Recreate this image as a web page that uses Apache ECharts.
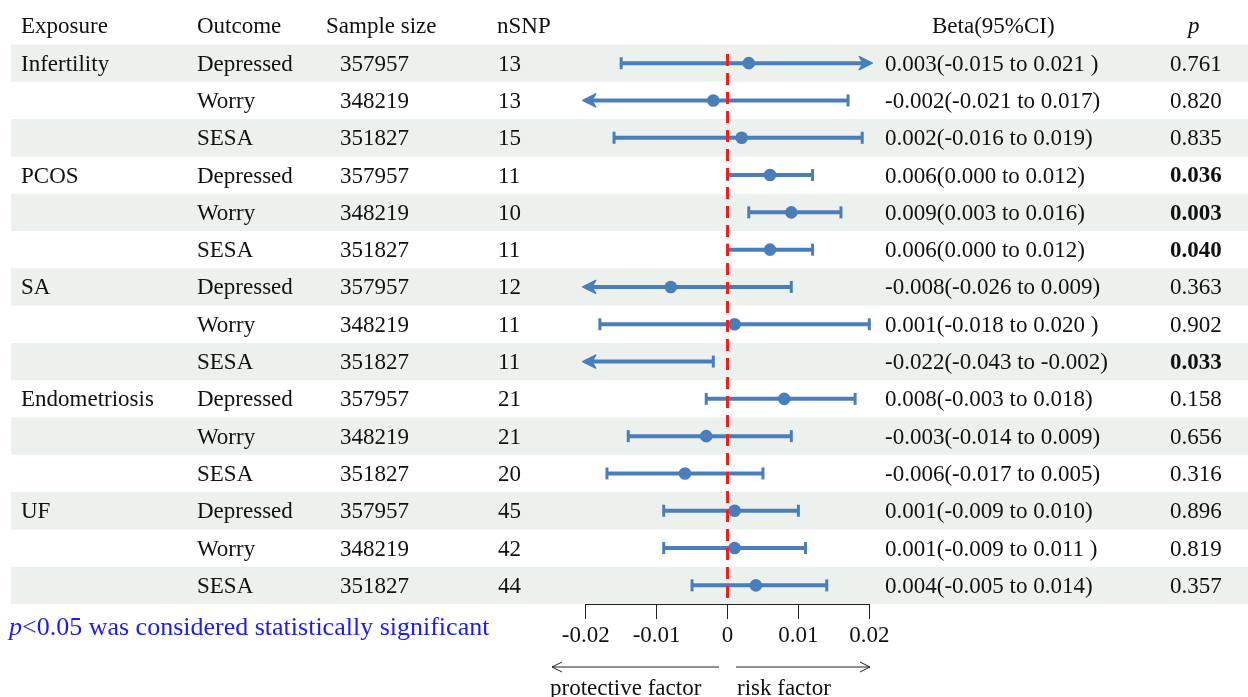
<!DOCTYPE html>
<html><head><meta charset="utf-8">
<script src="https://cdn.jsdelivr.net/npm/echarts@6/dist/echarts.min.js"></script>
<style>html,body{margin:0;padding:0;background:#fff}#c{width:1248px;height:697px}</style>
</head><body><div id="c"></div>
<script>
const exposures = ['Infertility','','','PCOS','','','SA','','','Endometriosis','','','UF','',''];
const outcomes = ['Depressed','Worry','SESA','Depressed','Worry','SESA','Depressed','Worry','SESA','Depressed','Worry','SESA','Depressed','Worry','SESA'];
const sampleSizes = ['357957','348219','351827','357957','348219','351827','357957','348219','351827','357957','348219','351827','357957','348219','351827'];
const nSNP = ['13','13','15','11','10','11','12','11','11','21','21','20','45','42','44'];
const beta = [0.003,-0.002,0.002,0.006,0.009,0.006,-0.008,0.001,-0.022,0.008,-0.003,-0.006,0.001,0.001,0.004];
const lower = [-0.015,-0.021,-0.016,0.000,0.003,0.000,-0.026,-0.018,-0.043,-0.003,-0.014,-0.017,-0.009,-0.009,-0.005];
const upper = [0.021,0.017,0.019,0.012,0.016,0.012,0.009,0.020,-0.002,0.018,0.009,0.005,0.010,0.011,0.014];
const ciLabels = ['0.003(-0.015 to 0.021 )','-0.002(-0.021 to 0.017)','0.002(-0.016 to 0.019)','0.006(0.000 to 0.012)','0.009(0.003 to 0.016)','0.006(0.000 to 0.012)','-0.008(-0.026 to 0.009)','0.001(-0.018 to 0.020 )','-0.022(-0.043 to -0.002)','0.008(-0.003 to 0.018)','-0.003(-0.014 to 0.009)','-0.006(-0.017 to 0.005)','0.001(-0.009 to 0.010)','0.001(-0.009 to 0.011 )','0.004(-0.005 to 0.014)'];
const pValues = ['0.761','0.820','0.835','0.036','0.003','0.040','0.363','0.902','0.033','0.158','0.656','0.316','0.896','0.819','0.357'];
const headers = ['Exposure','Outcome','Sample size','nSNP','Beta(95%CI)','p'];
const xMin = -0.02, xMax = 0.02, xStep = 0.01;

const FONT = "'Liberation Serif','Times New Roman',serif";
const FS = 23;
const BLUE = '#4a7ebb';
const rows = exposures.map((_, i) => i);
const TOP = 44.5, ROWH = 37.3, H = ROWH * rows.length;
const AX_L = 585.7, AX_W = 283.6;
const DY = 1.5;

const chart = echarts.init(document.getElementById('c'), null, {renderer: 'canvas'});

function txt(x, y, s, opts) {
  return {type: 'text', x: x, y: y + DY, style: Object.assign({text: s, fill: '#111', font: FS + 'px ' + FONT, textAlign: 'left', textVerticalAlign: 'middle'}, opts || {})};
}

const option = {
  animation: false,
  backgroundColor: '#fff',
  grid: [
    {left: 0, right: 0, top: TOP, height: H},
    {left: AX_L, width: AX_W, top: TOP, height: H}
  ],
  xAxis: [
    {gridIndex: 0, type: 'value', min: 0, max: 1, show: false},
    {gridIndex: 1, type: 'value', min: xMin, max: xMax, interval: xStep,
      axisLine: {show: true, onZero: false, lineStyle: {color: '#222', width: 1}},
      axisTick: {show: true, length: 15, inside: false, lineStyle: {color: '#222', width: 1}},
      splitLine: {show: false},
      axisLabel: {margin: 20, color: '#111', fontFamily: FONT, fontSize: FS,
        formatter: v => Math.abs(v) < 1e-9 ? '0' : String(+v.toFixed(2))}}
  ],
  yAxis: [
    {gridIndex: 0, type: 'category', data: rows, inverse: true, show: false},
    {gridIndex: 1, type: 'category', data: rows, inverse: true, show: false}
  ],
  series: [
    { // alternating bands
      type: 'custom', xAxisIndex: 0, yAxisIndex: 0, z: 1, silent: true, clip: false,
      data: rows.map(i => [0, i]),
      encode: {x: 0, y: 1},
      renderItem: (params, api) => {
        const i = api.value(1);
        if (i % 2 !== 0) return null;
        const cs = params.coordSys;
        const y = api.coord([0, i])[1];
        const h = api.size([0, 1])[1];
        return {type: 'rect', shape: {x: cs.x + 11, y: y - h / 2, width: cs.width - 11, height: h},
          style: {fill: '#ecf1ee'}};
      }
    },
    { // table text
      type: 'custom', xAxisIndex: 0, yAxisIndex: 0, z: 3, silent: true, clip: false,
      data: rows.map(i => [0, i]),
      encode: {x: 0, y: 1},
      renderItem: (params, api) => {
        const i = api.value(1);
        const cs = params.coordSys;
        const y = api.coord([0, i])[1];
        const bold = parseFloat(pValues[i]) < 0.05;
        return {type: 'group', children: [
          txt(cs.x + 21, y, exposures[i]),
          txt(cs.x + 197, y, outcomes[i]),
          txt(cs.x + 340, y, sampleSizes[i]),
          txt(cs.x + 498, y, nSNP[i]),
          txt(cs.x + 885, y, ciLabels[i]),
          txt(cs.x + 1170, y, pValues[i], {font: (bold ? 'bold ' : '') + FS + 'px ' + FONT})
        ]};
      }
    },
    { // CI bars
      type: 'custom', xAxisIndex: 1, yAxisIndex: 1, z: 4, silent: true, clip: false,
      data: rows.map(i => [lower[i], upper[i], beta[i], i]),
      encode: {x: [0, 1, 2], y: 3},
      renderItem: (params, api) => {
        const lo = api.value(0), hi = api.value(1), b = api.value(2), r = api.value(3);
        const y = api.coord([0, r])[1];
        const x1 = api.coord([Math.max(lo, xMin), r])[0];
        const x2 = api.coord([Math.min(hi, xMax), r])[0];
        const st = {stroke: BLUE, lineWidth: 4};
        const ch = [{type: 'line', shape: {x1: x1, y1: y, x2: x2, y2: y}, style: st}];
        if (lo < xMin) {
          ch.push({type: 'polygon', shape: {points: [[x1 - 3, y], [x1 + 10, y - 6.5], [x1 + 6, y], [x1 + 10, y + 6.5]]}, style: {fill: BLUE, stroke: BLUE, lineWidth: 1.5, lineJoin: 'round'}});
        } else {
          ch.push({type: 'line', shape: {x1: x1, y1: y - 6, x2: x1, y2: y + 6}, style: {stroke: BLUE, lineWidth: 3}});
        }
        if (hi > xMax) {
          ch.push({type: 'polygon', shape: {points: [[x2 + 3, y], [x2 - 10, y - 6.5], [x2 - 6, y], [x2 - 10, y + 6.5]]}, style: {fill: BLUE, stroke: BLUE, lineWidth: 1.5, lineJoin: 'round'}});
        } else {
          ch.push({type: 'line', shape: {x1: x2, y1: y - 6, x2: x2, y2: y + 6}, style: {stroke: BLUE, lineWidth: 3}});
        }
        if (b >= xMin && b <= xMax) {
          const xb = api.coord([b, r])[0];
          ch.push({type: 'circle', shape: {cx: xb, cy: y, r: 6.3}, style: {fill: BLUE}});
        }
        return {type: 'group', children: ch};
      }
    },
    { // reference line at 0
      type: 'custom', xAxisIndex: 1, yAxisIndex: 1, z: 6, silent: true, clip: false,
      data: [[0, 0]],
      encode: {x: 0, y: 1},
      renderItem: (params, api) => {
        const cs = params.coordSys;
        const x = api.coord([0, 0])[0];
        return {type: 'line', shape: {x1: x, y1: cs.y + 9.5, x2: x, y2: cs.y + cs.height},
          style: {stroke: '#ff1a1a', lineWidth: 3, lineDash: [12, 7]}};
      }
    }
  ],
  graphic: [
    txt(21, 25, headers[0]),
    txt(197, 25, headers[1]),
    txt(326, 25, headers[2]),
    txt(497, 25, headers[3]),
    txt(932, 25, headers[4]),
    txt(1188, 25, headers[5], {font: 'italic ' + FS + 'px ' + FONT}),
    {type: 'text', x: 9, y: 628, style: {
      text: '{i|p}<0.05 was considered statistically significant',
      fill: '#1a1aff', font: '26px ' + FONT, textAlign: 'left', textVerticalAlign: 'middle',
      rich: {i: {fontStyle: 'italic', fontFamily: FONT, fontSize: 26, fill: '#1a1aff', color: '#1a1aff'}}}},
    {type: 'polyline', shape: {points: [[719, 667], [552, 667]]}, style: {stroke: '#222', lineWidth: 1, fill: null}},
    {type: 'polyline', shape: {points: [[562, 662], [552, 667], [562, 672]]}, style: {stroke: '#222', lineWidth: 1, fill: null}},
    {type: 'polyline', shape: {points: [[736, 667], [870, 667]]}, style: {stroke: '#222', lineWidth: 1, fill: null}},
    {type: 'polyline', shape: {points: [[860, 662], [870, 667], [860, 672]]}, style: {stroke: '#222', lineWidth: 1, fill: null}},
    txt(550, 687, 'protective factor'),
    txt(737, 687, 'risk factor')
  ]
};
chart.setOption(option);
</script></body></html>
